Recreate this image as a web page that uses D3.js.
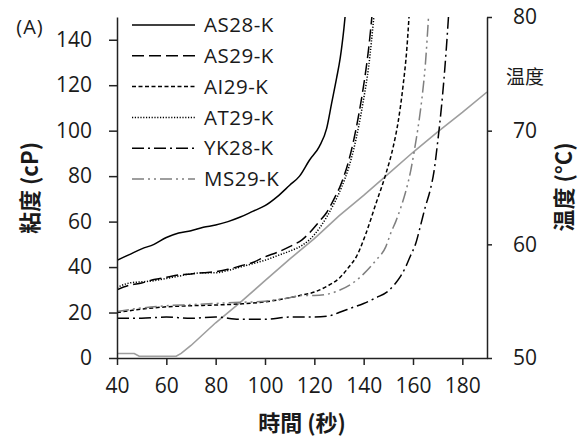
<!DOCTYPE html>
<html>
<head>
<meta charset="utf-8">
<script src="https://cdn.jsdelivr.net/npm/d3@7"></script>
<style>
  body { margin: 0; background: #fff; }
  svg text { font-family: "Open Sans", "Noto Sans CJK TC", sans-serif; fill: #1a1a1a; }
  .cjk { font-family: "Noto Sans CJK TC", "Noto Sans CJK JP", sans-serif; }
</style>
</head>
<body>
<div id="chart"></div>
<script>
// viscosity curves: [time (s), viscosity (cP)]
const as28 = [[40,43],[45,45.5],[50,48],[55,50],[60,53],[65,55],[70,56],[75,57.5],[80,58.5],[85,60],[90,62],[95,64.5],[100,67],[105,71],[110,76],[114,80],[118,87],[122,93],[125,101],[127,112],[129,123],[130.5,132],[132,145],[133,156]];
const as29 = [[40,30],[45,32],[50,33],[55,34.5],[60,35.5],[65,36.5],[70,37],[75,37.5],[80,38],[85,39],[90,40.5],[95,42],[100,44.5],[105,46.5],[110,49],[115,52],[118,55],[122,60],[125,64],[128,70],[131,77],[134,87],[136,96],[138,107],[140,120],[142,136],[143.5,152]];
const ai29 = [[40,20],[50,21.5],[60,22.5],[70,23],[80,23.3],[90,23.8],[100,24.7],[110,26.5],[115,27.7],[120,29],[125,31.5],[130,35],[134,40],[137,44.5],[141,55],[145,68],[149,81],[152,93],[154,104],[156,120],[157.5,136],[158.5,152]];
const at29 = [[40,31],[45,33],[50,33.5],[55,34],[60,35],[65,36],[70,37],[75,37.5],[80,37.5],[85,38.5],[90,40],[95,41.5],[100,43],[105,45],[110,47],[115,49.5],[118,52],[122,57],[125,62],[128,68],[131,75],[134,84],[136,92],[138,102],[140,114],[142,128],[144.3,152]];
const yk28 = [[40,17.5],[50,17.5],[60,18],[70,17.5],[80,18],[90,17],[100,17],[110,18],[120,18],[126,18.5],[130,20],[135,22],[140,24],[145,26.5],[150,29.5],[153,33],[155,36],[157,40],[159,45],[161,50],[163,58],[165,66.5],[167,74],[168.5,82],[170,95],[171.5,110],[172.5,122],[173.5,136],[174.5,152]];
const ms29 = [[40,20.5],[50,22],[60,23],[70,23.5],[80,24],[90,24.5],[100,25],[110,26.5],[115,27.5],[120,27.5],[125,28],[130,29.7],[135,32.5],[140,37],[145,43],[149,49],[151,55],[153,60],[155,66],[157,73],[159,82],[160.5,91],[162,101],[163.6,114],[165,129],[166.4,152]];
// temperature: [time (s), °C]
const temp = [[40,50.4],[47,50.4],[49,50.15],[64,50.15],[66,50.4],[70,51.1],[80,53.1],[90,54.9],[100,56.8],[110,58.7],[120,60.5],[130,62.5],[140,64.3],[150,66.2],[160,68.1],[170,69.9],[180,71.6],[190,73.4]];

const xTicks = [40, 60, 80, 100, 120, 140, 160, 180];
const yTicks = [0, 20, 40, 60, 80, 100, 120, 140];
const tTicks = [50, 60, 70, 80];

const series = [
  { name: 'AS28-K', data: as28, color: '#000', dash: null },
  { name: 'AS29-K', data: as29, color: '#000', dash: '12,5' },
  { name: 'AI29-K', data: ai29, color: '#000', dash: '4,2.5' },
  { name: 'AT29-K', data: at29, color: '#000', dash: '1.2,1.6' },
  { name: 'YK28-K', data: yk28, color: '#000', dash: '12,4,2,4' },
  { name: 'MS29-K', data: ms29, color: '#7f7f7f', dash: '12,4,2,4,2,4' }
];

const W = 586, H = 439;
const svg = d3.select('#chart').append('svg').attr('width', W).attr('height', H);

const x = d3.scaleLinear().domain([40, 190]).range([117, 487]);
const y = d3.scaleLinear().domain([0, 150]).range([358, 17]);
const yT = d3.scaleLinear().domain([50, 80]).range([358, 17]);

svg.append('clipPath').attr('id', 'plot')
  .append('rect').attr('x', 117).attr('y', 17).attr('width', 370).attr('height', 341);

const plot = svg.append('g').attr('clip-path', 'url(#plot)');

const line = d3.line().x(d => x(d[0])).y(d => y(d[1])).curve(d3.curveMonotoneX);
const tline = d3.line().x(d => x(d[0])).y(d => yT(d[1]));

plot.append('path').datum(temp)
  .attr('d', tline).attr('fill', 'none')
  .attr('stroke', '#9e9e9e').attr('stroke-width', 1.6);

series.forEach(s => {
  plot.append('path').datum(s.data)
    .attr('d', line).attr('fill', 'none')
    .attr('stroke', s.color).attr('stroke-width', 1.5)
    .attr('stroke-dasharray', s.dash);
});

// Axes
function styleAxis(g) {
  g.select('.domain').attr('stroke', '#222').attr('stroke-width', 1.5);
  g.selectAll('.tick line').attr('stroke', '#222').attr('stroke-width', 1.5);
  g.selectAll('.tick text').style('font-size', '21px').attr('fill', '#1a1a1a');
}

svg.append('g').attr('transform', 'translate(0,358)')
  .call(d3.axisBottom(x).tickValues(xTicks).tickSize(7).tickSizeOuter(0).tickPadding(13))
  .call(styleAxis);

svg.append('g').attr('transform', 'translate(117,0)')
  .call(d3.axisLeft(y).tickValues(yTicks).tickSize(8).tickSizeOuter(0).tickPadding(17))
  .call(styleAxis);

svg.append('g').attr('transform', 'translate(487,0)')
  .call(d3.axisRight(yT).tickValues(tTicks).tickSize(5).tickSizeOuter(0).tickPadding(21))
  .call(styleAxis);

// Legend
const legend = svg.append('g');
series.forEach((s, i) => {
  const ly = 25 + i * 30.8;
  legend.append('line')
    .attr('x1', 132).attr('x2', 195).attr('y1', ly).attr('y2', ly)
    .attr('stroke', s.color).attr('stroke-width', 1.5)
    .attr('stroke-dasharray', s.dash);
  legend.append('text')
    .attr('x', 204).attr('y', ly).attr('dy', '0.35em')
    .style('font-size', '20.5px').style('letter-spacing', '0.5px')
    .text(s.name);
});

// Labels
svg.append('text').attr('x', 30).attr('y', 27).attr('dy', '0.35em')
  .attr('text-anchor', 'middle').style('font-size', '20px').style('letter-spacing', '1px')
  .text('(A)');

svg.append('text').attr('class', 'cjk')
  .attr('transform', 'translate(30,188) rotate(-90)')
  .attr('text-anchor', 'middle').attr('dy', '0.35em')
  .style('font-size', '22px').style('font-weight', 'bold')
  .text('粘度 (cP)');

svg.append('text').attr('class', 'cjk')
  .attr('transform', 'translate(564,187) rotate(-90)')
  .attr('text-anchor', 'middle').attr('dy', '0.35em')
  .style('font-size', '22px').style('font-weight', 'bold')
  .text('温度 (°C)');

svg.append('text').attr('class', 'cjk')
  .attr('x', 525).attr('y', 77).attr('dy', '0.35em')
  .attr('text-anchor', 'middle').style('font-size', '19px')
  .text('温度');

svg.append('text').attr('class', 'cjk')
  .attr('x', 302).attr('y', 423).attr('dy', '0.35em')
  .attr('text-anchor', 'middle')
  .style('font-size', '22px').style('font-weight', 'bold')
  .text('時間 (秒)');
</script>
</body>
</html>
